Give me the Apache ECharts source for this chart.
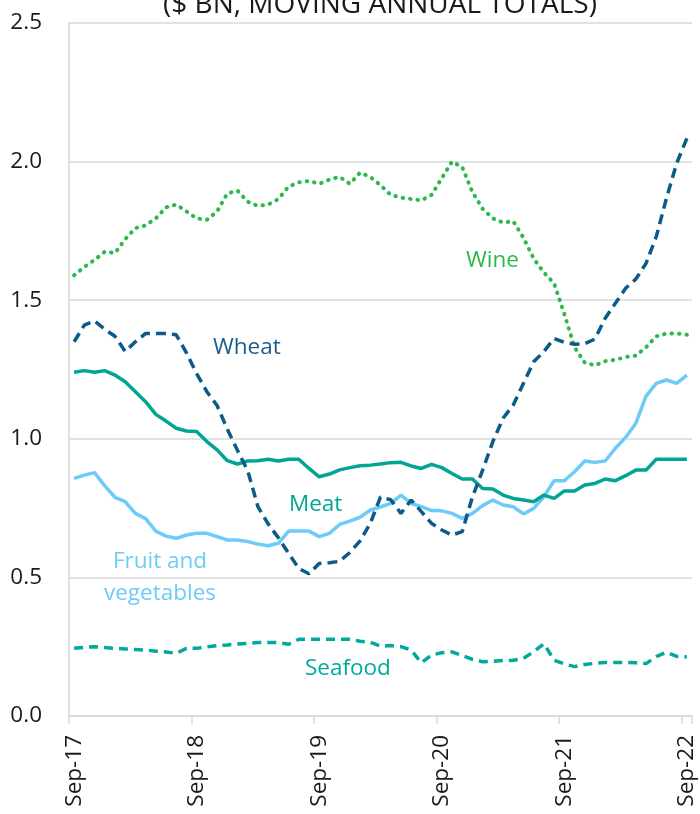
<!DOCTYPE html>
<html>
<head>
<meta charset="utf-8">
<script src="https://cdn.jsdelivr.net/npm/echarts@6/dist/echarts.min.js"></script>
<style>
  html, body { margin: 0; padding: 0; background: #fff; }
  #chart { width: 700px; height: 814px; }
</style>
</head>
<body>
<div id="chart"></div>
<script>
// monthly categories, Sep-17 .. Sep-22
var months = [
  'Sep-17','Oct-17','Nov-17','Dec-17','Jan-18','Feb-18','Mar-18','Apr-18','May-18','Jun-18','Jul-18','Aug-18',
  'Sep-18','Oct-18','Nov-18','Dec-18','Jan-19','Feb-19','Mar-19','Apr-19','May-19','Jun-19','Jul-19','Aug-19',
  'Sep-19','Oct-19','Nov-19','Dec-19','Jan-20','Feb-20','Mar-20','Apr-20','May-20','Jun-20','Jul-20','Aug-20',
  'Sep-20','Oct-20','Nov-20','Dec-20','Jan-21','Feb-21','Mar-21','Apr-21','May-21','Jun-21','Jul-21','Aug-21',
  'Sep-21','Oct-21','Nov-21','Dec-21','Jan-22','Feb-22','Mar-22','Apr-22','May-22','Jun-22','Jul-22','Aug-22',
  'Sep-22'
];

var wine = [1.59, 1.62, 1.645, 1.675, 1.67, 1.72, 1.76, 1.77, 1.795, 1.835, 1.845, 1.82,
  1.795, 1.79, 1.82, 1.885, 1.895, 1.855, 1.84, 1.845, 1.865, 1.91, 1.925, 1.93,
  1.92, 1.935, 1.945, 1.92, 1.96, 1.945, 1.915, 1.88, 1.87, 1.865, 1.86, 1.88,
  1.94, 2.0, 1.98, 1.89, 1.83, 1.795, 1.78, 1.785, 1.725, 1.65, 1.6, 1.56,
  1.45, 1.33, 1.275, 1.265, 1.28, 1.285, 1.295, 1.3, 1.33, 1.37, 1.38, 1.38, 1.375];

var wheat = [1.35, 1.41, 1.425, 1.395, 1.37, 1.315, 1.35, 1.38, 1.38, 1.38, 1.375, 1.31,
  1.235, 1.17, 1.12, 1.035, 0.958, 0.885, 0.755, 0.693, 0.643, 0.587, 0.532, 0.513,
  0.55, 0.553, 0.558, 0.59, 0.632, 0.695, 0.79, 0.78, 0.731, 0.779, 0.737, 0.695,
  0.671, 0.653, 0.665, 0.79, 0.887, 0.99, 1.074, 1.122, 1.2, 1.278, 1.315, 1.362,
  1.348, 1.341, 1.343, 1.36, 1.435, 1.489, 1.543, 1.576, 1.633, 1.729, 1.868, 1.994, 2.084];

var meat = [1.24, 1.246, 1.24, 1.246, 1.23, 1.206, 1.17, 1.134, 1.088, 1.064, 1.038, 1.028,
  1.026, 0.99, 0.96, 0.921, 0.909, 0.92, 0.921, 0.926, 0.92, 0.926, 0.926, 0.893,
  0.863, 0.873, 0.888, 0.896, 0.903, 0.905, 0.909, 0.914, 0.915, 0.902, 0.893, 0.908,
  0.896, 0.875, 0.855, 0.855, 0.821, 0.819, 0.797, 0.785, 0.779, 0.773, 0.797, 0.785,
  0.812, 0.812, 0.833, 0.839, 0.855, 0.849, 0.867, 0.887, 0.887, 0.926, 0.926, 0.926, 0.926];

var fruitVeg = [0.857, 0.869, 0.878, 0.83, 0.789, 0.773, 0.731, 0.712, 0.667, 0.649, 0.641, 0.653,
  0.659, 0.659, 0.647, 0.635, 0.635, 0.629, 0.62, 0.614, 0.623, 0.667, 0.667, 0.667,
  0.647, 0.659, 0.691, 0.703, 0.717, 0.743, 0.754, 0.767, 0.797, 0.767, 0.755, 0.741,
  0.74, 0.731, 0.713, 0.731, 0.759, 0.779, 0.761, 0.755, 0.729, 0.749, 0.791, 0.849,
  0.849, 0.881, 0.92, 0.915, 0.92, 0.966, 1.005, 1.056, 1.154, 1.2, 1.212, 1.2, 1.23];

var seafood = [0.244, 0.248, 0.25, 0.247, 0.244, 0.242, 0.24, 0.238, 0.234, 0.231, 0.226, 0.244,
  0.244, 0.25, 0.254, 0.256, 0.26, 0.262, 0.265, 0.265, 0.265, 0.259, 0.277, 0.277,
  0.277, 0.277, 0.277, 0.277, 0.27, 0.266, 0.252, 0.254, 0.25, 0.238, 0.192, 0.22,
  0.228, 0.231, 0.218, 0.204, 0.196, 0.197, 0.2, 0.201, 0.208, 0.232, 0.261, 0.201,
  0.188, 0.178, 0.186, 0.19, 0.193, 0.193, 0.193, 0.192, 0.189, 0.214, 0.23, 0.215, 0.213];

var yTicks = [0, 0.5, 1.0, 1.5, 2.0, 2.5];

var FONT = '"Open Sans", "Noto Sans", sans-serif';
var chart = echarts.init(document.getElementById('chart'));

var option = {
  animation: false,
  textStyle: { fontFamily: FONT },
  grid: { left: 69, right: 8, top: 23, bottom: 98 },
  xAxis: {
    type: 'category',
    data: months,
    boundaryGap: true,
    axisLine: { show: true, lineStyle: { color: '#d9d9d9', width: 1.5 } },
    axisTick: { show: true, interval: 11, length: 8, lineStyle: { color: '#d9d9d9', width: 1.5 } },
    axisLabel: { interval: 11, rotate: 90, margin: 19, fontSize: 22.5, color: '#1a1a1a', fontFamily: FONT }
  },
  yAxis: {
    type: 'value',
    min: yTicks[0],
    max: yTicks[yTicks.length - 1],
    interval: 0.5,
    axisLine: { show: true, lineStyle: { color: '#d9d9d9', width: 1.5 } },
    axisTick: { show: false },
    splitLine: { show: true, lineStyle: { color: '#d9d9d9', width: 1.5 } },
    axisLabel: {
      margin: 27, fontSize: 22.5, color: '#1a1a1a', fontFamily: FONT,
      formatter: function (v) { return v.toFixed(1); }
    }
  },
  series: [
    {
      name: 'Seafood', type: 'line', data: seafood, symbol: 'none',
      lineStyle: { color: '#00a99d', width: 3.5, type: [9, 6] }
    },
    {
      name: 'Fruit and vegetables', type: 'line', data: fruitVeg, symbol: 'none',
      lineStyle: { color: '#6ccbf8', width: 3.5 }
    },
    {
      name: 'Meat', type: 'line', data: meat, symbol: 'none',
      lineStyle: { color: '#00a593', width: 3.5 }
    },
    {
      name: 'Wine', type: 'line', data: wine, symbol: 'none',
      lineStyle: { color: '#2db84d', width: 4, type: [0.5, 7], cap: 'round' }
    },
    {
      name: 'Wheat', type: 'line', data: wheat, symbol: 'none',
      lineStyle: { color: '#0b5a8a', width: 3.5, type: [10, 6] }
    }
  ],
  graphic: [
    { type: 'text', style: { x: 380, y: 5, text: '($ BN, MOVING ANNUAL TOTALS)', align: 'center', verticalAlign: 'middle', font: '28px ' + FONT, fill: '#1a1a1a' } },
    { type: 'text', style: { x: 466, y: 261, text: 'Wine', verticalAlign: 'middle', font: '22.5px ' + FONT, fill: '#2db84d' } },
    { type: 'text', style: { x: 213, y: 348, text: 'Wheat', verticalAlign: 'middle', font: '22.5px ' + FONT, fill: '#1b5e8c' } },
    { type: 'text', style: { x: 289, y: 505, text: 'Meat', verticalAlign: 'middle', font: '22.5px ' + FONT, fill: '#00a593' } },
    { type: 'text', style: { x: 160, y: 562, text: 'Fruit and', align: 'center', verticalAlign: 'middle', font: '22.5px ' + FONT, fill: '#6ccbf8' } },
    { type: 'text', style: { x: 160, y: 594, text: 'vegetables', align: 'center', verticalAlign: 'middle', font: '22.5px ' + FONT, fill: '#6ccbf8' } },
    { type: 'text', style: { x: 305, y: 669, text: 'Seafood', verticalAlign: 'middle', font: '22.5px ' + FONT, fill: '#00a99d' } }
  ]
};

chart.setOption(option);
</script>
</body>
</html>
